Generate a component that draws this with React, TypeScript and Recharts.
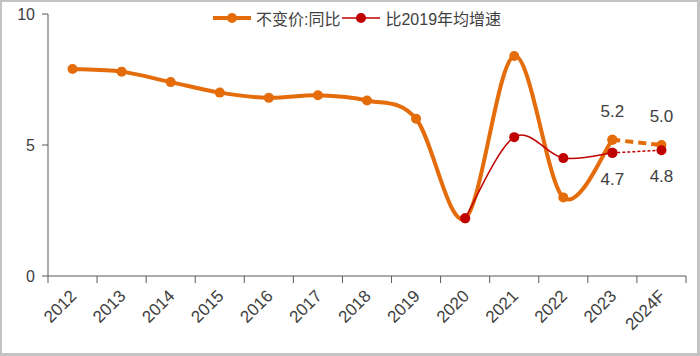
import React from 'react';
import { LineChart, Line, XAxis, YAxis, Legend, LabelList } from 'recharts';

const years = ['2012', '2013', '2014', '2015', '2016', '2017', '2018', '2019', '2020', '2021', '2022', '2023', '2024F'];
const gdpYoY = [7.9, 7.8, 7.4, 7.0, 6.8, 6.9, 6.7, 6.0, 2.2, 8.4, 3.0, 5.2, null];
const gdpYoYForecast = [null, null, null, null, null, null, null, null, null, null, null, 5.2, 5.0];
const avgSince2019 = [null, null, null, null, null, null, null, null, 2.2, 5.3, 4.5, 4.7, null];
const avgSince2019Forecast = [null, null, null, null, null, null, null, null, null, null, null, 4.7, 4.8];
const yTicks = [0, 5, 10];

const seriesNames = ['不变价:同比', '比2019年均增速'];
const ORANGE = '#E46C0A';
const RED = '#C00000';
const TEXT = '#404040';
const AXIS = '#595959';
const FONT = '"Liberation Sans", Arial, "Noto Sans CJK SC", sans-serif';

const W = 700;
const H = 356;
const MARGIN = { top: 14, right: 14, bottom: 0, left: 0 };
const Y_AXIS_W = 48;
const X_AXIS_H = 80;
const BAND = (W - MARGIN.left - MARGIN.right - Y_AXIS_W) / years.length;

const data = years.map((y, i) => ({
  year: y,
  gdp: gdpYoY[i],
  gdpF: gdpYoYForecast[i],
  avg: avgSince2019[i],
  avgF: avgSince2019Forecast[i],
}));

// Catmull-Rom style smoothing (Excel-like smoothed line)
const smoothCurve: any = (context: any) => {
  let pts: number[][] = [];
  return {
    areaStart() {},
    areaEnd() {},
    lineStart() {
      pts = [];
    },
    point(x: number, y: number) {
      pts.push([+x, +y]);
    },
    lineEnd() {
      const n = pts.length;
      if (!n) return;
      context.moveTo(pts[0][0], pts[0][1]);
      if (n === 1) {
        context.lineTo(pts[0][0], pts[0][1]);
        return;
      }
      for (let i = 0; i < n - 1; i++) {
        const p0 = pts[Math.max(i - 1, 0)];
        const p1 = pts[i];
        const p2 = pts[i + 1];
        const p3 = pts[Math.min(i + 2, n - 1)];
        context.bezierCurveTo(
          p1[0] + (p2[0] - p0[0]) / 6,
          p1[1] + (p2[1] - p0[1]) / 6,
          p2[0] - (p3[0] - p1[0]) / 6,
          p2[1] - (p3[1] - p1[1]) / 6,
          p2[0],
          p2[1]
        );
      }
    },
  };
};

const TICK_LEN = 7;

const XTick = (props: any) => {
  const { x, y, payload, index } = props;
  const axisY = y - TICK_LEN;
  const lx = x - BAND / 2;
  const isLast = index === years.length - 1;
  const ax = x + 5;
  const ay = y + 14;
  return (
    <g>
      <line x1={lx} y1={axisY} x2={lx} y2={axisY + TICK_LEN} stroke={AXIS} strokeWidth={1} />
      {isLast && (
        <line x1={x + BAND / 2} y1={axisY} x2={x + BAND / 2} y2={axisY + TICK_LEN} stroke={AXIS} strokeWidth={1} />
      )}
      <text
        x={ax}
        y={ay}
        textAnchor="end"
        fontSize={17}
        fill={TEXT}
        fontFamily={FONT}
        transform={`rotate(-45, ${ax}, ${ay})`}
      >
        {payload.value}
      </text>
    </g>
  );
};

const LegendIcon = ({ color, thick }: { color: string; thick: boolean }) => (
  <svg width={38} height={14} style={{ display: 'block' }}>
    <line x1={0} y1={7} x2={38} y2={7} stroke={color} strokeWidth={thick ? 4 : 1.5} />
    <circle cx={19} cy={7} r={5} fill={color} />
  </svg>
);

const CustomLegend = () => (
  <div
    style={{
      display: 'flex',
      alignItems: 'center',
      fontFamily: FONT,
      fontSize: 16,
      color: TEXT,
      whiteSpace: 'nowrap',
    }}
  >
    <LegendIcon color={ORANGE} thick={true} />
    <span style={{ marginLeft: 5, marginRight: 2 }}>{seriesNames[0]}</span>
    <LegendIcon color={RED} thick={false} />
    <span style={{ marginLeft: 5 }}>{seriesNames[1]}</span>
  </div>
);

const fmt = (v: any) => (v == null ? '' : Number(v).toFixed(1));

export default function App() {
  return (
    <div style={{ position: 'fixed', left: 0, top: 0, width: W, height: H, background: '#fff' }}>
      <div
        style={{
          position: 'absolute',
          left: 0,
          top: 0,
          width: W,
          height: H,
          boxSizing: 'border-box',
          border: '2px solid #c3c3c3',
          borderRightWidth: 3,
          borderBottomWidth: 3,
        }}
      />
      <div style={{ position: 'absolute', left: 0, top: 0 }}>
        <LineChart width={W} height={H} data={data} margin={MARGIN}>
          <XAxis
            dataKey="year"
            height={X_AXIS_H}
            interval={0}
            padding={{ left: BAND / 2, right: BAND / 2 }}
            tickLine={false}
            tickSize={TICK_LEN}
            tickMargin={0}
            stroke={AXIS}
            axisLine={{ stroke: AXIS }}
            tick={<XTick />}
          />
          <YAxis
            width={Y_AXIS_W}
            domain={[0, 10]}
            ticks={yTicks}
            tickSize={6}
            tickMargin={7}
            stroke={AXIS}
            tick={{ fill: TEXT, fontSize: 16, fontFamily: FONT }}
          />
          <Legend
            layout="horizontal"
            verticalAlign="middle"
            align="center"
            content={<CustomLegend />}
            wrapperStyle={{ top: 6, left: 213, width: 'auto', height: 'auto' }}
          />
          <Line
            type={smoothCurve}
            dataKey="gdp"
            name={seriesNames[0]}
            stroke={ORANGE}
            strokeWidth={4}
            dot={{ r: 5, fill: ORANGE, stroke: ORANGE, strokeWidth: 0 }}
            activeDot={false}
            isAnimationActive={false}
          />
          <Line
            type={smoothCurve}
            dataKey="gdpF"
            legendType="none"
            stroke={ORANGE}
            strokeWidth={4}
            strokeDasharray="8 5"
            dot={{ r: 5, fill: ORANGE, stroke: ORANGE, strokeWidth: 0 }}
            activeDot={false}
            isAnimationActive={false}
          >
            <LabelList dataKey="gdpF" position="top" offset={23} formatter={fmt} fill={TEXT} fontSize={17} fontFamily={FONT} />
          </Line>
          <Line
            type={smoothCurve}
            dataKey="avg"
            name={seriesNames[1]}
            stroke={RED}
            strokeWidth={1.5}
            dot={{ r: 5, fill: RED, stroke: RED, strokeWidth: 0 }}
            activeDot={false}
            isAnimationActive={false}
          />
          <Line
            type={smoothCurve}
            dataKey="avgF"
            legendType="none"
            stroke={RED}
            strokeWidth={1.5}
            strokeDasharray="3 2"
            dot={{ r: 5, fill: RED, stroke: RED, strokeWidth: 0 }}
            activeDot={false}
            isAnimationActive={false}
          >
            <LabelList dataKey="avgF" position="bottom" offset={20} formatter={fmt} fill={TEXT} fontSize={17} fontFamily={FONT} />
          </Line>
        </LineChart>
      </div>
    </div>
  );
}
